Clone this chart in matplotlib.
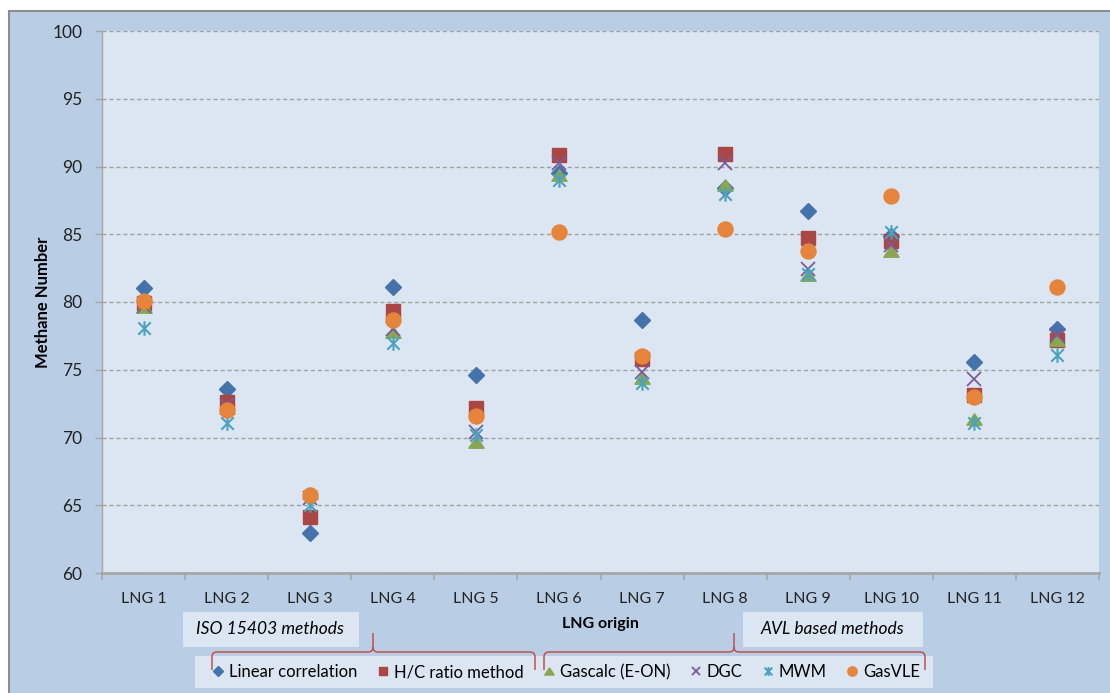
import matplotlib
matplotlib.use("Agg")
import matplotlib.pyplot as plt
from matplotlib.path import Path
from matplotlib.patches import Rectangle, PathPatch
import numpy as np

plt.rcParams['font.family'] = ['Lato', 'DejaVu Sans']

categories = ["LNG 1", "LNG 2", "LNG 3", "LNG 4", "LNG 5", "LNG 6",
              "LNG 7", "LNG 8", "LNG 9", "LNG 10", "LNG 11", "LNG 12"]
linear_correlation = [81.0, 73.6, 62.95, 81.1, 74.6, 89.5, 78.7, 88.4, 86.7, 84.9, 75.6, 78.0]
hc_ratio = [79.9, 72.6, 64.1, 79.3, 72.2, 90.85, 75.8, 90.9, 84.7, 84.5, 73.1, 77.2]
gascalc = [79.6, 72.2, 65.9, 77.8, 69.7, 89.4, 74.4, 88.6, 82.0, 83.8, 71.4, 77.2]
dgc = [79.7, 72.4, 65.5, 78.0, 70.4, 90.25, 74.8, 90.25, 82.4, 84.2, 74.3, 77.6]
mwm = [78.1, 71.1, 65.0, 77.0, 70.2, 89.0, 74.0, 88.0, 82.1, 85.2, 71.1, 76.1]
gasvle = [80.1, 72.0, 65.75, 78.7, 71.6, 85.2, 76.0, 85.4, 83.75, 87.85, 73.0, 81.1]
series_names = ["Linear correlation", "H/C ratio method", "Gascalc (E-ON)", "DGC", "MWM", "GasVLE"]
yticks = [60, 65, 70, 75, 80, 85, 90, 95, 100]

W, H = 1110, 693
fig = plt.figure(figsize=(W / 100, H / 100), dpi=100, facecolor='white')

def fx(px):
    return px / W

def fy(py):
    return (H - py) / H

# outer chart area
fig.patches.append(Rectangle((fx(8.5), fy(720)), fx(1200), (720 - 10.5) / H,
                             transform=fig.transFigure, facecolor='#B9CDE5',
                             edgecolor='#8C8C8C', linewidth=1.5, zorder=-5))

ax = fig.add_axes([fx(102), fy(573), fx(1099 - 102), (573 - 31) / H])
ax.set_zorder(2)
ax.set_facecolor('#DCE6F2')

x = np.arange(1, len(categories) + 1)

star_path = Path([(0, -1), (0, 1), (-0.85, -0.85), (0.85, 0.85), (-0.85, 0.85), (0.85, -0.85)],
                 [Path.MOVETO, Path.LINETO, Path.MOVETO, Path.LINETO, Path.MOVETO, Path.LINETO])
tri_path = Path([(0, 0.75), (-1, -0.75), (1, -0.75), (0, 0.75)],
                [Path.MOVETO, Path.LINETO, Path.LINETO, Path.CLOSEPOLY])

styles = [
    dict(marker='D', ms=7.8, color='#4472AA', mec='#4472AA'),
    dict(marker='s', ms=10.2, color='#AA4643', mec='#AA4643'),
    dict(marker=tri_path, ms=11.0, color='#8BA652', mec='#8BA652'),
    dict(marker='x', ms=10.0, color='#7A5C9A', mec='#7A5C9A', mew=1.3),
    dict(marker=star_path, ms=10.5, color='#4AA2BE', mec='#4AA2BE', mew=1.5),
    dict(marker='o', ms=10.8, color='#E5843A', mec='#E5843A'),
]
all_series = [linear_correlation, hc_ratio, gascalc, dgc, mwm, gasvle]
handles = []
for i, (vals, st, name) in enumerate(zip(all_series, styles, series_names)):
    h, = ax.plot(x, vals, linestyle='none', label=name, zorder=3 + i, **st)
    handles.append(h)

ax.set_xlim(0.5, len(categories) + 0.5)
ax.set_ylim(60, 100)
ax.set_yticks(yticks)
ax.set_yticklabels([str(v) for v in yticks])
ax.yaxis.grid(True, linestyle=(0, (3, 2)), color='#A0A0A0', linewidth=1.0)
ax.set_axisbelow(True)

ax.set_xticks(x)
ax.set_xticklabels(categories)
ax.set_xticks(np.arange(0.5, len(categories) + 1.0, 1.0), minor=True)
ax.tick_params(axis='x', which='major', length=0, pad=14, labelsize=11.5, colors='#222222')
ax.tick_params(axis='x', which='minor', length=5, width=1.2, color='#A6A6A6', direction='out')
ax.tick_params(axis='y', length=5, width=1.0, color='#A6A6A6', direction='out', pad=9,
               labelsize=12.5, labelcolor='#222222')

for s in ['top', 'right']:
    ax.spines[s].set_visible(False)
ax.spines['left'].set_color('#A6A6A6')
ax.spines['left'].set_linewidth(1.0)
ax.spines['bottom'].set_color('#A6A6A6')
ax.spines['bottom'].set_linewidth(2.0)

ax.set_ylabel("Methane Number", fontsize=12, fontweight='bold')
ax.yaxis.set_label_coords((51 - 102) / 997, 0.5)
fig.text(fx(600), fy(624), "LNG origin", fontsize=11.5, fontweight='bold',
         ha='center', va='center')

# annotation boxes
for (x0, x1, txt) in [(183, 359, "ISO 15403 methods"), (743, 923, "AVL based methods")]:
    fig.patches.append(Rectangle((fx(x0), fy(647)), fx(x1 - x0), (647 - 612) / H,
                                 transform=fig.transFigure, facecolor='#DCE6F2',
                                 edgecolor='none', zorder=1))
    fig.text(fx((x0 + x1) / 2 - 1), fy(629), txt, fontsize=12.5, style='italic',
             ha='center', va='center', zorder=2)

# legend box
fig.patches.append(Rectangle((fx(195), fy(688)), fx(933 - 195), (688 - 656) / H,
                             transform=fig.transFigure, facecolor='#DCE6F2',
                             edgecolor='none', zorder=1))
leg = fig.legend(handles=handles, loc='center', bbox_to_anchor=(fx(566), fy(672)),
                 ncol=6, frameon=False, fontsize=12, markerscale=0.62,
                 handlelength=0.7, handletextpad=0.3, columnspacing=1.18,
                 borderpad=0.2)
leg.set_zorder(3)

# braces
def brace(x0, xm, x1, ybar, ytop, yend, r=5):
    verts = [(x0, yend), (x0, ybar + r), (x0, ybar), (x0 + r, ybar),
             (xm - r, ybar), (xm, ybar), (xm, ybar - r), (xm, ytop),
             (xm, ybar - r), (xm, ybar), (xm + r, ybar),
             (x1 - r, ybar), (x1, ybar), (x1, ybar + r), (x1, yend)]
    codes = [Path.MOVETO, Path.LINETO, Path.CURVE3, Path.CURVE3,
             Path.LINETO, Path.CURVE3, Path.CURVE3, Path.LINETO,
             Path.MOVETO, Path.CURVE3, Path.CURVE3,
             Path.LINETO, Path.CURVE3, Path.CURVE3, Path.LINETO]
    v = [(fx(a), fy(b)) for a, b in verts]
    fig.patches.append(PathPatch(Path(v, codes), transform=fig.transFigure,
                                 facecolor='none', edgecolor='#C0504D',
                                 linewidth=1.1, zorder=5))

brace(212, 373, 535, 652, 633, 670)
brace(544, 734, 925, 652, 633, 670)

fig.savefig("out.png", dpi=100, facecolor='white')
